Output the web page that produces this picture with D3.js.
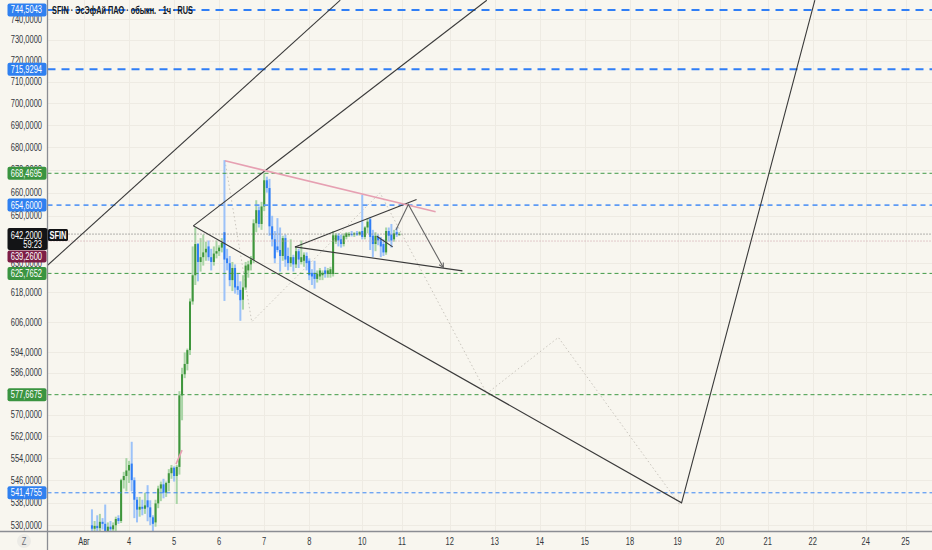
<!DOCTYPE html>
<html lang="ru">
<head>
<meta charset="UTF-8">
<title>SFIN 1ч</title>
<script src="https://d3js.org/d3.v7.min.js"></script>
<style>
    html, body { margin: 0; padding: 0; background: #f8f6ef; }
    svg { display: block; }
    text { font-family: "Liberation Sans", Arial, sans-serif; }
    .tick-label { font-size: 10px; fill: #33363d; }
    .box-label { font-size: 10px; fill: #ffffff; }
    .title { font-size: 11px; font-weight: bold; fill: #131722; }
</style>
</head>
<body>
<div id="chart"></div>
<script>
// hourly candles, first one sits on bar 3 of the time scale
const firstBar = 3;
const opens  = [530.0,528.8,529.8,529.0,531.2,530.5,528.0,529.5,528.6,530.0,532.5,531.5,546.0,547.5,549.5,552.0,546.0,539.0,535.5,536.5,535.8,538.8,536.3,532.8,531.0,537.7,543.0,544.5,541.5,545.0,548.5,550.5,547.5,550.8,577.4,585.5,589.5,594.9,614.3,625.0,638.0,630.5,632.5,634.5,637.0,632.5,630.5,634.0,635.0,636.5,643.0,632.0,630.0,623.0,628.0,620.5,619.0,615.0,620.0,627.0,629.5,631.5,646.8,652.4,646.5,654.0,665.4,662.0,645.5,640.0,637.0,635.5,633.0,640.5,633.0,630.0,632.5,629.5,635.0,630.5,631.0,633.0,631.0,626.0,626.0,623.5,624.5,625.0,627.0,625.5,625.5,625.5,639.0,641.5,640.0,638.0,641.0,641.7,642.3,642.0,642.5,642.0,643.5,641.0,645.0,648.5,641.5,638.0,641.0,640.0,638.0,634.5,643.5,642.0,640.0,643.0,642.0];
const highs  = [535.6,531.5,533.5,534.0,532.5,537.3,531.0,531.5,531.0,533.0,533.5,546.5,549.0,554.0,553.0,560.0,547.0,540.0,540.0,539.0,541.5,544.2,538.8,533.5,539.0,544.0,545.5,546.5,545.5,550.0,551.5,551.0,551.5,579.0,588.0,594.0,595.5,615.5,637.0,645.0,638.5,640.5,642.0,639.0,639.5,636.0,637.0,639.5,637.5,640.5,674.3,636.0,633.0,630.5,629.5,625.5,622.5,625.0,630.5,631.0,633.0,648.5,656.7,654.0,656.0,668.5,667.0,666.0,650.0,643.5,649.0,645.0,641.5,642.0,636.5,640.0,633.5,637.0,636.0,639.5,634.5,634.5,632.0,627.5,631.0,627.0,628.0,627.0,628.5,628.0,628.5,643.5,642.5,642.5,642.0,642.5,643.0,643.0,643.5,643.0,643.5,643.5,659.0,645.5,649.0,649.5,644.0,643.0,642.0,641.0,640.0,645.0,645.0,646.5,644.0,645.0,643.0];
const lows   = [526.5,526.0,527.0,527.5,528.5,527.0,526.5,527.5,527.0,528.0,530.5,530.8,543.0,542.0,545.0,542.0,532.5,531.0,533.0,533.5,534.0,531.4,530.0,528.0,529.5,536.0,538.5,539.5,540.0,542.0,546.5,545.5,537.5,548.0,568.0,584.0,587.0,593.0,613.0,621.0,622.5,626.5,629.0,631.0,631.0,627.0,629.0,632.0,633.0,634.5,614.5,627.0,620.5,618.5,617.5,617.0,606.5,611.0,619.0,624.0,627.0,630.0,643.0,645.0,644.0,652.0,660.0,641.5,637.0,630.0,634.5,626.5,631.0,628.5,627.0,628.5,626.5,628.0,628.0,629.5,628.5,627.0,623.0,621.0,619.5,622.0,623.0,623.0,624.0,624.0,624.0,624.5,638.0,637.0,636.5,637.0,640.0,641.0,641.2,641.0,641.5,641.5,640.0,640.0,642.5,635.5,632.5,635.0,637.5,632.5,633.0,633.5,639.0,636.5,639.0,641.0,641.5];
const closes = [528.8,529.8,529.0,531.2,530.5,528.0,529.5,528.6,530.0,532.2,531.5,546.0,547.5,549.5,551.5,546.0,539.0,535.5,536.5,535.8,537.0,536.3,532.8,530.5,537.7,543.0,544.5,541.5,545.0,548.5,550.5,547.5,550.8,577.4,585.5,589.5,594.9,614.3,625.0,638.0,630.5,632.5,634.5,636.0,632.5,630.5,634.0,635.0,636.5,638.5,631.5,630.0,623.0,628.0,620.0,619.0,614.8,620.0,629.0,629.5,631.5,646.8,652.4,646.5,654.0,665.4,662.0,645.5,640.0,632.0,635.5,633.0,640.5,631.5,630.0,632.5,629.5,635.0,631.5,632.5,633.5,630.0,625.0,624.5,623.5,625.5,627.0,626.0,625.5,627.0,627.5,641.7,641.7,639.5,638.0,641.5,642.5,642.3,642.0,642.5,642.0,643.0,641.0,645.0,647.5,641.0,638.0,641.5,639.5,637.0,634.5,643.5,641.5,639.5,642.5,642.0,642.2];

// price axis labels (log scale)
const priceTicks = [740,730,720,710,700,690,680,670,660,650,630,618,606,594,586,570,562,554,546,538,530];

// time axis (bar index of each day start)
const dayLabels = ["Авг","4","5","6","7","8","10","11","12","13","14","15","18","19","20","21","22","24","25"];
const dayBars   = [0,17,34,51,68,85,105,120,138,155,172,189,206,224,240,258,275,295,310];

// horizontal levels
const levelPrices = [744.5043, 715.9294, 668.4695, 654.6, 625.7652, 577.6675, 541.4755];
const levelKinds  = ["blueMajor","blueMajor","green","blueMid","green","green","blueMinor"];

const lastPrice = 642.2;
const lastTimer = "59:23";
const prevPrice = 639.26;
const symbol = "SFIN";
const titleText = "SFIN · ЭсЭфАй ПАО · обыкн. · 1ч · RUS";

// trend drawings: [bar, price] points
const lineA = [[-13.96, 628.9], [96.7, 749.3]];
const lineB = [[41.25, 645.7], [152.0, 749.3]];
const lineC = [[41.25, 645.7], [225.5, 537.9], [275.8, 749.3]];
const pinkLine = [[53.2, 674.0], [132.7, 651.7]];
const pinkTick = [[34.7, 551.8], [37.0, 556.9]];
const triUpper = [[79.6, 636.8], [125.5, 657.0]];
const triLower = [[79.6, 636.8], [142.8, 626.8]];
const smallLine = [[110.5, 641.3], [116.5, 636.8]];
const arrowPath = [[117.7, 643.9], [122.4, 654.9], [135.6, 628.2]];
const faintPath = [[53.2, 674.0], [63.3, 606.1], [111.7, 659.9], [152.0, 578.1], [179.0, 599.9], [224.9, 537.1]];

const width = 932, height = 550;
const axisX = 47.5, plotBottom = 531;
const squeeze = 0.75; // the screenshot's glyphs are narrow

const colors = {
    bg: "#f8f6ef", grid: "#eeebe3", axis: "#8b8d93",
    up: "#3f963c", down: "#2f7ef6", upWick: "#a9d5a6", downWick: "#9cc2f8"
};
const levelStyle = {
    blueMajor: { stroke: "#2f7ef6", width: 2, dash: "8,6", box: "#2f80f0" },
    blueMid:   { stroke: "#5d9bf5", width: 1.6, dash: "5,4", box: "#2f80f0" },
    blueMinor: { stroke: "#3b86f4", width: 1, dash: "4,3", box: "#2f80f0" },
    green:     { stroke: "#3f9a45", width: 1, dash: "4,3", box: "#3a9440" }
};

const x = d3.scaleLinear().domain([0, 320]).range([84, 84 + 320 * 2.65]);
const y = d3.scaleLog().domain([528.0, 749.4]).range([plotBottom, 0]);
const fmt = v => d3.format(".4f")(v).replace(".", ",");
const line = d3.line().x(d => x(d[0])).y(d => y(d[1]));

const candles = opens.map((o, k) => ({ bar: firstBar + k, o, h: highs[k], l: lows[k], c: closes[k] }));

const svg = d3.select("#chart").append("svg").attr("width", width).attr("height", height);
svg.append("rect").attr("width", width).attr("height", height).attr("fill", colors.bg);

svg.append("clipPath").attr("id", "plot")
    .append("rect").attr("x", axisX).attr("y", 0).attr("width", width - axisX).attr("height", plotBottom);
const plot = svg.append("g").attr("clip-path", "url(#plot)");

// grid
plot.selectAll(".hgrid").data(priceTicks).enter().append("line")
    .attr("x1", axisX).attr("x2", width)
    .attr("y1", d => Math.round(y(d)) + 0.5).attr("y2", d => Math.round(y(d)) + 0.5)
    .attr("stroke", colors.grid);
plot.selectAll(".vgrid").data(dayBars).enter().append("line")
    .attr("x1", d => Math.round(x(d)) + 0.5).attr("x2", d => Math.round(x(d)) + 0.5)
    .attr("y1", 0).attr("y2", plotBottom)
    .attr("stroke", colors.grid);

// faint dotted zigzag below everything
plot.append("path").attr("d", line(faintPath))
    .attr("fill", "none").attr("stroke", "#c9c5bd").attr("stroke-width", 1).attr("stroke-dasharray", "1.5,2.5");

// candles
const cg = plot.selectAll(".candle").data(candles).enter().append("g");
cg.append("rect")
    .attr("x", d => x(d.bar) - 1).attr("width", 2)
    .attr("y", d => y(d.h)).attr("height", d => Math.max(1, y(d.l) - y(d.h)))
    .attr("fill", d => d.c >= d.o ? colors.upWick : colors.downWick);
cg.append("rect")
    .attr("x", d => x(d.bar) - 1).attr("width", 2)
    .attr("y", d => y(Math.max(d.o, d.c)))
    .attr("height", d => Math.max(1, Math.abs(y(d.o) - y(d.c))))
    .attr("fill", d => d.c >= d.o ? colors.up : colors.down);

// horizontal levels
levelPrices.forEach((p, k) => {
    const s = levelStyle[levelKinds[k]];
    plot.append("line")
        .attr("x1", axisX).attr("x2", width)
        .attr("y1", y(p)).attr("y2", y(p))
        .attr("stroke", s.stroke).attr("stroke-width", s.width).attr("stroke-dasharray", s.dash);
});

// last price and previous close dotted lines
plot.append("line").attr("x1", axisX).attr("x2", width)
    .attr("y1", y(lastPrice)).attr("y2", y(lastPrice))
    .attr("stroke", "#6b6b6b").attr("stroke-dasharray", "1,2");
plot.append("line").attr("x1", axisX).attr("x2", width)
    .attr("y1", y(prevPrice)).attr("y2", y(prevPrice))
    .attr("stroke", "#c99aa6").attr("stroke-dasharray", "1,2");

// trend lines
[lineA, lineB, lineC, triUpper, triLower, smallLine].forEach(pts => {
    plot.append("path").attr("d", line(pts))
        .attr("fill", "none").attr("stroke", "#3a3a3a").attr("stroke-width", 1.1);
});
[pinkLine, pinkTick].forEach(pts => {
    plot.append("path").attr("d", line(pts))
        .attr("fill", "none").attr("stroke", "#e6a0b2").attr("stroke-width", 1.6);
});
plot.append("path").attr("d", line(arrowPath))
    .attr("fill", "none").attr("stroke", "#666").attr("stroke-width", 1.1);
{
    const a = arrowPath[arrowPath.length - 2], b = arrowPath[arrowPath.length - 1];
    const bx = x(b[0]), by = y(b[1]);
    const ang = Math.atan2(by - y(a[1]), bx - x(a[0]));
    const head = [-0.5, 0.5].map(t => [bx - 5 * Math.cos(ang + t), by - 5 * Math.sin(ang + t)]);
    plot.append("path")
        .attr("d", `M${head[0][0]},${head[0][1]}L${bx},${by}L${head[1][0]},${head[1][1]}`)
        .attr("fill", "none").attr("stroke", "#666").attr("stroke-width", 1.1);
}

// axes frame
svg.append("line").attr("x1", axisX).attr("x2", axisX).attr("y1", 0).attr("y2", height)
    .attr("stroke", colors.axis).attr("stroke-width", 1.3);
svg.append("line").attr("x1", 0).attr("x2", width).attr("y1", plotBottom + 0.5).attr("y2", plotBottom + 0.5)
    .attr("stroke", colors.axis).attr("stroke-width", 1.3);

// price tick labels
svg.selectAll(".ptick").data(priceTicks).enter().append("text")
    .attr("class", "tick-label")
    .attr("x", 42).attr("y", d => y(d)).attr("dy", "0.35em")
    .attr("text-anchor", "end").text(fmt);

// time tick labels
svg.selectAll(".ttick").data(dayBars).enter().append("text")
    .attr("class", "tick-label")
    .attr("x", d => x(d)).attr("y", 541).attr("dy", "0.35em")
    .attr("text-anchor", "middle")
    .text((d, k) => dayLabels[k]);

// "Z" button
svg.append("circle").attr("cx", 24).attr("cy", 541).attr("r", 7).attr("fill", "#ecebe6");
svg.append("text").attr("class", "tick-label").attr("x", 24).attr("y", 541).attr("dy", "0.35em")
    .attr("text-anchor", "middle").style("fill", "#6a6d75").text("Z");

// level price boxes
function priceBox(cy, fill, label) {
    svg.append("rect").attr("x", 7.5).attr("y", cy - 6.5).attr("width", 39).attr("height", 13)
        .attr("rx", 2).attr("fill", fill);
    svg.append("text").attr("class", "box-label").attr("x", 42).attr("y", cy).attr("dy", "0.35em")
        .attr("text-anchor", "end").text(label);
}
levelPrices.forEach((p, k) => priceBox(y(p), levelStyle[levelKinds[k]].box, fmt(p)));

// last price box with timer and symbol tag
{
    const cy = y(lastPrice);
    svg.append("rect").attr("x", 7.5).attr("y", cy - 6).attr("width", 40).attr("height", 22)
        .attr("rx", 2).attr("fill", "#131416");
    svg.append("text").attr("class", "box-label").attr("x", 42).attr("y", cy + 1).attr("dy", "0.35em")
        .attr("text-anchor", "end").text(fmt(lastPrice));
    svg.append("text").attr("class", "box-label").attr("x", 42).attr("y", cy + 10).attr("dy", "0.35em")
        .attr("text-anchor", "end").text(lastTimer);
    svg.append("rect").attr("x", 48).attr("y", cy - 5).attr("width", 20).attr("height", 12)
        .attr("rx", 1.5).attr("fill", "#131416");
    svg.append("text").attr("class", "box-label").attr("x", 58).attr("y", cy + 1).attr("dy", "0.35em")
        .attr("text-anchor", "middle").style("font-weight", "bold").text(symbol);
    // previous close box pushed below the last price box
    svg.append("rect").attr("x", 7.5).attr("y", cy + 16.5).attr("width", 39).attr("height", 12)
        .attr("rx", 2).attr("fill", "#7c1d45");
    svg.append("text").attr("class", "box-label").attr("x", 42).attr("y", cy + 22.5).attr("dy", "0.35em")
        .attr("text-anchor", "end").text(fmt(prevPrice));
}

// narrow every label like the reference glyphs
svg.selectAll("text").each(function () {
    const w = this.getComputedTextLength();
    d3.select(this).attr("textLength", w * squeeze).attr("lengthAdjust", "spacingAndGlyphs");
});

// title on top of the level lines, fitted to the reference width
svg.append("text").attr("class", "title").attr("x", 52).attr("y", 14)
    .attr("textLength", 141).attr("lengthAdjust", "spacingAndGlyphs").text(titleText);
</script>
</body>
</html>
